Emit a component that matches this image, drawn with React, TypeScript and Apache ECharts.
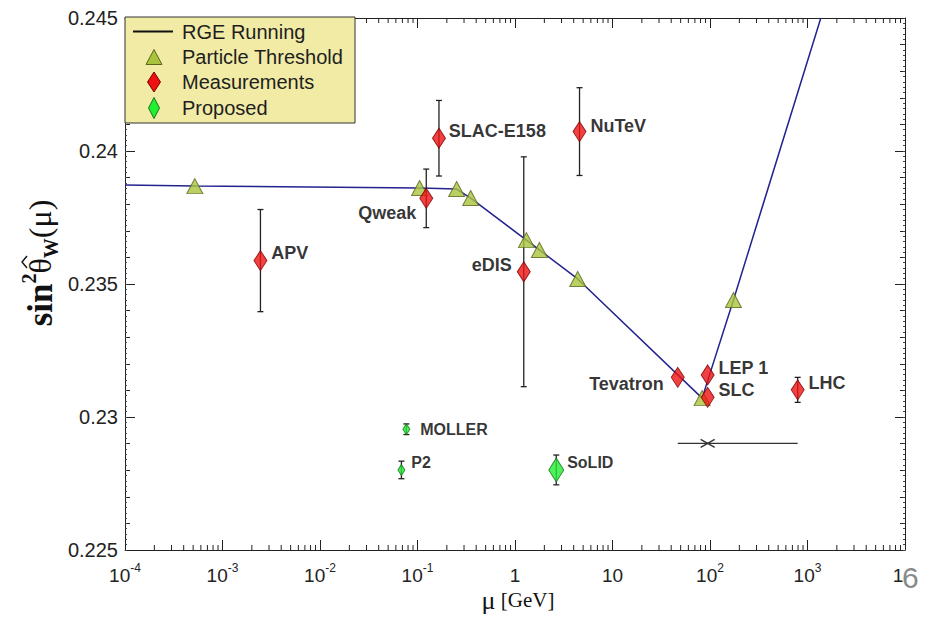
import React, { useEffect, useRef } from 'react';
import * as echarts from 'echarts';

// ---- axis ranges & ticks ----
const X_MIN = 1e-4;
const X_MAX = 1e4;
const Y_MIN = 0.225;
const Y_MAX = 0.245;
const X_DECADES = [-4, -3, -2, -1, 0, 1, 2, 3];
const MINOR_MULT = [2, 3, 4, 5, 6, 7, 8, 9];

// ---- RGE running curve (with particle thresholds) ----
const rgeMu = [1e-4, 5.2e-4, 0.105, 0.252, 0.351, 1.31, 1.78, 4.4, 83, 174, 1370];
const rgeVal = [0.23872, 0.23868, 0.23861, 0.23857, 0.23823, 0.23665, 0.23628, 0.23519, 0.23071, 0.2344, 0.245];

const thrMu = [5.2e-4, 0.105, 0.252, 0.351, 1.31, 1.78, 4.4, 83, 174];
const thrVal = [0.23868, 0.23861, 0.23857, 0.23823, 0.23665, 0.23628, 0.23519, 0.23071, 0.2344];

// ---- measurements ----
const measNames = ['APV', 'Qweak', 'SLAC-E158', 'NuTeV', 'eDIS', 'Tevatron', 'LEP 1', 'SLC', 'LHC'];
const measMu = [0.00245, 0.123, 0.166, 4.59, 1.23, 46.7, 94.6, 94.6, 793];
const measVal = [0.23588, 0.23822, 0.24048, 0.24073, 0.23546, 0.23149, 0.23158, 0.23074, 0.23102];
const measErr = [0.00192, 0.0011, 0.00142, 0.00165, 0.00432, 0, 0, 0, 0.00047];

// ---- proposed ----
const propNames = ['MOLLER', 'P2', 'SoLID'];
const propMu = [0.0769, 0.0684, 2.65];
const propVal = [0.22954, 0.22801, 0.22801];
const propErr = [0.0002, 0.00033, 0.00056];

// ---- horizontal range bar ----
const hbarMu = [94.6];
const hbarLow = [46.7];
const hbarHigh = [793];
const hbarVal = [0.22901];

// label placement (style only)
const LABEL_POS: Record<string, { pos: string; dist: number; dy: number }> = {
  APV: { pos: 'right', dist: 4, dy: -8 },
  Qweak: { pos: 'left', dist: 3, dy: 15 },
  'SLAC-E158': { pos: 'right', dist: 3, dy: -7 },
  NuTeV: { pos: 'right', dist: 4, dy: -6 },
  eDIS: { pos: 'left', dist: 5, dy: -7 },
  Tevatron: { pos: 'left', dist: 7, dy: 7 },
  'LEP 1': { pos: 'right', dist: 4, dy: -7 },
  SLC: { pos: 'right', dist: 4, dy: -7 },
  LHC: { pos: 'right', dist: 4, dy: -7 },
  MOLLER: { pos: 'right', dist: 10, dy: 0 },
  P2: { pos: 'right', dist: 6, dy: -7 },
  SoLID: { pos: 'right', dist: 3, dy: -7 },
};
const PROP_SIZE: Record<string, number[]> = {
  MOLLER: [7, 11],
  P2: [7, 11],
  SoLID: [15, 24],
};

const SANS = '"Liberation Sans", Arial, sans-serif';
const SERIF = '"Liberation Serif", "Times New Roman", serif';
const RED = '#ee1111';
const RED_B = '#7a0000';
const GREEN = '#22ee33';
const GREEN_B = '#157715';
const TRI = '#a9c43c';
const TRI_B = '#57661b';
const LINE = '#23238f';

function errRender(params: any, api: any) {
  const x = api.value(0);
  const y = api.value(1);
  const e = api.value(2);
  if (!e) return { type: 'group', children: [] };
  const t = api.coord([x, y + e]);
  const b = api.coord([x, y - e]);
  const hw = 3;
  const st = { stroke: '#222', lineWidth: 1.3 };
  return {
    type: 'group',
    children: [
      { type: 'line', shape: { x1: t[0], y1: t[1], x2: b[0], y2: b[1] }, style: st },
      { type: 'line', shape: { x1: t[0] - hw, y1: t[1], x2: t[0] + hw, y2: t[1] }, style: st },
      { type: 'line', shape: { x1: b[0] - hw, y1: b[1], x2: b[0] + hw, y2: b[1] }, style: st },
    ],
  };
}

function labelFor(name: string, size = 18) {
  const p = LABEL_POS[name];
  return {
    show: true,
    formatter: name,
    position: p.pos,
    distance: p.dist,
    offset: [0, p.dy],
    color: '#000',
    fontFamily: SANS,
    fontWeight: 'bold',
    fontSize: size,
  };
}

export default function App() {
  const ref = useRef<HTMLDivElement>(null);
  useEffect(() => {
    if (!ref.current) return;
    const chart = echarts.init(ref.current, null, { renderer: 'svg' });

    const minorX: number[][] = [];
    X_DECADES.forEach((d) => MINOR_MULT.forEach((m) => minorX.push([m * Math.pow(10, d), Y_MIN])));

    const xLabel = (v: number) => {
      const e = Math.round(Math.log10(v));
      if (e === 0) return '1';
      if (e === 1) return '10';
      // the 10^4 label is covered by the slide number in the reference: only its "1" shows
      if (e === 4) return '{h|1}';
      return '10{s|' + e + '}';
    };

    const axisLine = { show: true, lineStyle: { color: '#222', width: 1 } };

    const option: any = {
      animation: false,
      backgroundColor: '#ffffff',
      grid: { left: 125, right: 27, top: 18, bottom: 67, containLabel: false },
      xAxis: [
        {
          type: 'log',
          logBase: 10,
          min: X_MIN,
          max: X_MAX,
          splitNumber: 8,
          position: 'bottom',
          axisLine,
          axisTick: { show: true, inside: true, length: 10, lineStyle: { color: '#222' } },
          splitLine: { show: false },
          axisLabel: {
            formatter: xLabel,
            margin: 12,
            color: '#222',
            fontFamily: SANS,
            fontSize: 19,
            lineHeight: 26,
            rich: {
              s: { fontSize: 12, fontFamily: SANS, color: '#222', verticalAlign: 'top', lineHeight: 14 },
              h: { fontSize: 19, fontFamily: SANS, color: '#222', padding: [0, 14, 0, 0] },
            },
          },
        },
        {
          type: 'log',
          logBase: 10,
          min: X_MIN,
          max: X_MAX,
          splitNumber: 8,
          position: 'top',
          axisLine,
          axisTick: { show: true, inside: true, length: 10, lineStyle: { color: '#222' } },
          splitLine: { show: false },
          axisLabel: { show: false },
        },
      ],
      yAxis: [
        {
          type: 'value',
          min: Y_MIN,
          max: Y_MAX,
          interval: 0.005,
          position: 'left',
          axisLine,
          axisTick: { show: true, inside: true, length: 10, lineStyle: { color: '#222' } },
          minorTick: { show: true, splitNumber: 5, length: 5, lineStyle: { color: '#222' } },
          splitLine: { show: false },
          minorSplitLine: { show: false },
          axisLabel: { margin: 7, color: '#222', fontFamily: SANS, fontSize: 20 },
        },
        {
          type: 'value',
          min: Y_MIN,
          max: Y_MAX,
          interval: 0.005,
          position: 'right',
          axisLine,
          axisTick: { show: true, inside: true, length: 10, lineStyle: { color: '#222' } },
          minorTick: { show: true, splitNumber: 5, length: 5, lineStyle: { color: '#222' } },
          splitLine: { show: false },
          axisLabel: { show: false },
        },
        {
          type: 'value',
          min: Y_MIN,
          max: Y_MAX,
          interval: 0.0002,
          position: 'left',
          axisLine: { show: false },
          axisTick: { show: true, inside: true, length: 2, lineStyle: { color: '#444' } },
          splitLine: { show: false },
          axisLabel: { show: false },
        },
        {
          type: 'value',
          min: Y_MIN,
          max: Y_MAX,
          interval: 0.0002,
          position: 'right',
          axisLine: { show: false },
          axisTick: { show: true, inside: true, length: 2, lineStyle: { color: '#444' } },
          splitLine: { show: false },
          axisLabel: { show: false },
        },
      ],
      series: [
        {
          type: 'custom',
          name: 'minor-x',
          xAxisIndex: 0,
          yAxisIndex: 0,
          silent: true,
          z: 1,
          data: minorX,
          renderItem: (params: any, api: any) => {
            const v = api.value(0);
            const b = api.coord([v, Y_MIN]);
            const t = api.coord([v, Y_MAX]);
            const st = { stroke: '#222', lineWidth: 1 };
            return {
              type: 'group',
              children: [
                { type: 'line', shape: { x1: b[0], y1: b[1], x2: b[0], y2: b[1] - 5 }, style: st },
                { type: 'line', shape: { x1: t[0], y1: t[1], x2: t[0], y2: t[1] + 5 }, style: st },
              ],
            };
          },
        },
        {
          type: 'line',
          name: 'RGE Running',
          data: rgeMu.map((m, i) => [m, rgeVal[i]]),
          symbol: 'none',
          lineStyle: { color: LINE, width: 1.5 },
          z: 2,
        },
        {
          type: 'custom',
          name: 'errors',
          z: 3,
          data: [
            ...measMu.map((m, i) => [m, measVal[i], measErr[i]]),
            ...propMu.map((m, i) => [m, propVal[i], propErr[i]]),
          ],
          renderItem: errRender,
        },
        {
          type: 'custom',
          name: 'range',
          z: 3,
          data: hbarMu.map((m, i) => [m, hbarVal[i], hbarLow[i], hbarHigh[i]]),
          renderItem: (params: any, api: any) => {
            const c = api.coord([api.value(0), api.value(1)]);
            const l = api.coord([api.value(2), api.value(1)]);
            const r = api.coord([api.value(3), api.value(1)]);
            const st = { stroke: '#333', lineWidth: 1.3 };
            return {
              type: 'group',
              children: [
                { type: 'line', shape: { x1: l[0], y1: l[1], x2: r[0], y2: r[1] }, style: st },
                { type: 'line', shape: { x1: c[0] - 7, y1: c[1] - 4, x2: c[0] + 7, y2: c[1] + 4 }, style: st },
                { type: 'line', shape: { x1: c[0] - 7, y1: c[1] + 4, x2: c[0] + 7, y2: c[1] - 4 }, style: st },
              ],
            };
          },
        },
        {
          type: 'scatter',
          name: 'Particle Threshold',
          data: thrMu.map((m, i) => [m, thrVal[i]]),
          symbol: 'triangle',
          symbolSize: [16, 15],
          itemStyle: { color: TRI, borderColor: TRI_B, borderWidth: 1 },
          z: 4,
        },
        {
          type: 'scatter',
          name: 'Measurements',
          data: measNames.map((n, i) => ({ name: n, value: [measMu[i], measVal[i]], label: labelFor(n) })),
          symbol: 'diamond',
          symbolSize: [13, 20],
          itemStyle: { color: RED, borderColor: RED_B, borderWidth: 1 },
          z: 5,
        },
        {
          type: 'scatter',
          name: 'Proposed',
          data: propNames.map((n, i) => ({
            name: n,
            value: [propMu[i], propVal[i]],
            symbolSize: PROP_SIZE[n],
            label: labelFor(n, 16),
          })),
          symbol: 'diamond',
          itemStyle: { color: GREEN, borderColor: GREEN_B, borderWidth: 1 },
          z: 5,
        },
      ],
      graphic: [
        // legend box
        {
          type: 'rect',
          z: 100,
          shape: { x: 125, y: 17, width: 230, height: 106 },
          style: { fill: '#f1eba6', stroke: '#333', lineWidth: 1 },
        },
        {
          type: 'line',
          z: 101,
          shape: { x1: 133, y1: 31.5, x2: 173, y2: 31.5 },
          style: { stroke: '#111', lineWidth: 2 },
        },
        {
          type: 'polygon',
          z: 101,
          shape: { points: [[146, 64.5], [162, 64.5], [154, 49.5]] },
          style: { fill: TRI, stroke: TRI_B, lineWidth: 1 },
        },
        {
          type: 'polygon',
          z: 101,
          shape: { points: [[154, 72], [160.5, 82], [154, 92], [147.5, 82]] },
          style: { fill: RED, stroke: RED_B, lineWidth: 1 },
        },
        {
          type: 'polygon',
          z: 101,
          shape: { points: [[154, 97.5], [159.5, 108], [154, 118.5], [148.5, 108]] },
          style: { fill: GREEN, stroke: GREEN_B, lineWidth: 1 },
        },
        ...['RGE Running', 'Particle Threshold', 'Measurements', 'Proposed'].map((t, i) => ({
          type: 'text',
          z: 101,
          x: 182,
          y: [31.5, 57, 82, 108][i],
          style: {
            text: t,
            fill: '#1e1e1e',
            font: '20px ' + SANS,
            verticalAlign: 'middle',
            align: 'left',
          },
        })),
        // y-axis title (rotated group: text + hat over theta)
        {
          type: 'group',
          x: 40,
          y: 263,
          rotation: Math.PI / 2,
          z: 50,
          children: [
            {
              type: 'text',
              z: 50,
              x: 0,
              y: 0,
              style: {
                text: '{a|sin}{b|2}{c|θ}{d|W}{e|(μ)}',
                align: 'center',
                verticalAlign: 'middle',
                rich: {
                  a: { fontFamily: SERIF, fontWeight: 'bold', fontSize: 35, lineHeight: 42, fill: '#111' },
                  b: { fontFamily: SERIF, fontWeight: 'bold', fontSize: 20, lineHeight: 22, verticalAlign: 'top', fill: '#111' },
                  c: { fontFamily: SERIF, fontSize: 32, lineHeight: 42, fill: '#111' },
                  d: { fontFamily: SERIF, fontWeight: 'bold', fontSize: 20, lineHeight: 22, verticalAlign: 'bottom', fill: '#111' },
                  e: { fontFamily: SERIF, fontSize: 32, lineHeight: 42, fill: '#111' },
                },
              },
            },
            {
              type: 'polyline',
              z: 51,
              shape: { points: [[-5, -13], [1, -18], [7, -13]] },
              style: { stroke: '#111', lineWidth: 1.4, fill: 'none' },
            },
          ],
        },
        // x-axis title
        {
          type: 'text',
          z: 50,
          x: 518,
          y: 600,
          style: {
            text: '{m|μ}{g| [GeV]}',
            align: 'center',
            verticalAlign: 'middle',
            rich: {
              m: { fontFamily: SERIF, fontSize: 26, fill: '#111' },
              g: { fontFamily: SERIF, fontSize: 21, fill: '#111' },
            },
          },
        },
        // slide number
        {
          type: 'text',
          z: 120,
          x: 902,
          y: 577,
          style: {
            text: '6',
            fill: '#8a8a8a',
            font: '30px ' + SANS,
            align: 'left',
            verticalAlign: 'middle',
          },
        },
      ],
    };

    chart.setOption(option);
    return () => chart.dispose();
  }, []);

  return <div ref={ref} style={{ position: 'absolute', left: 0, top: 0, width: 932, height: 617 }} />;
}
